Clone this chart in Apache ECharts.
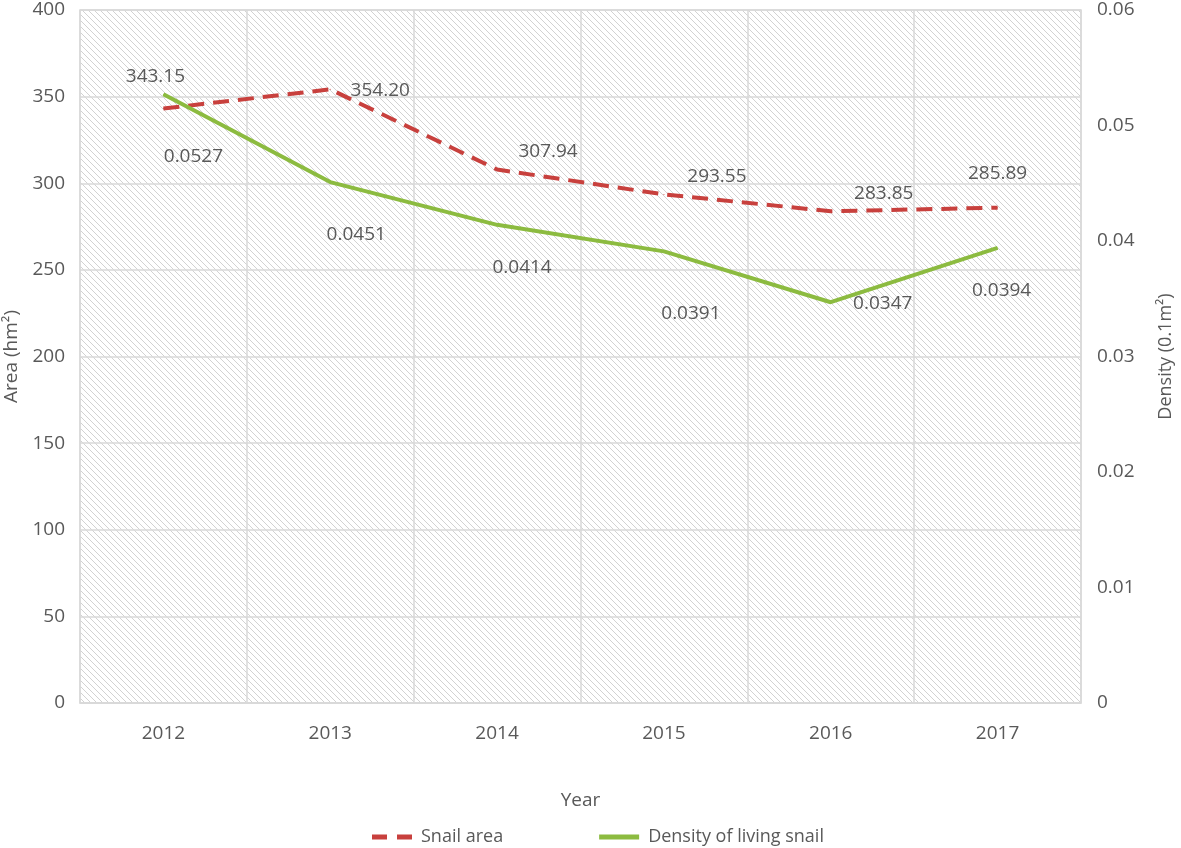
<!DOCTYPE html>
<html><head><meta charset="utf-8">
<script src="https://cdn.jsdelivr.net/npm/echarts@6/dist/echarts.min.js"></script>
<style>html,body{margin:0;padding:0;background:#fff}#c{width:1181px;height:848px}</style>
</head><body><div id="c"></div>
<script>
const years = ['2012','2013','2014','2015','2016','2017'];
const snailArea = [343.15, 354.20, 307.94, 293.55, 283.85, 285.89];
const snailAreaLabels = ['343.15','354.20','307.94','293.55','283.85','285.89'];
const density = [0.0527, 0.0451, 0.0414, 0.0391, 0.0347, 0.0394];
const densityLabels = ['0.0527','0.0451','0.0414','0.0391','0.0347','0.0394'];

// label offsets (style only)
const areaOffsets = [[-8,-32],[50,1],[51,-18],[53,-18],[53,-18],[0,-34]];
const densOffsets = [[30,62],[26,52],[25,43],[27,62],[52,1],[4,43]];

const FONT = '"Open Sans", "Noto Sans", sans-serif';
const TXT = '#595959';

// hatch pattern
const pc = document.createElement('canvas');
pc.width = 6; pc.height = 6;
const pctx = pc.getContext('2d');
pctx.fillStyle = '#ffffff'; pctx.fillRect(0,0,6,6);
pctx.fillStyle = '#d2d2d2';
for (let i = 0; i < 6; i++) pctx.fillRect(i, i, 1, 1);

const chart = echarts.init(document.getElementById('c'), null, {renderer:'canvas'});
const labelBase = {show:true, position:'inside', color:TXT, fontFamily:FONT, fontSize:19};
chart.setOption({
  animation:false,
  textStyle:{fontFamily:FONT, color:TXT},
  grid:{left:80, right:100, top:10, bottom:145, containLabel:false, outerBoundsMode:'none',
        show:true, backgroundColor:{image:pc, repeat:'repeat'}, borderColor:'#d9d9d9', borderWidth:1.5},
  legend:{
    left:367, top:823, itemWidth:40, itemHeight:5, itemGap:96,
    textStyle:{color:TXT, fontFamily:FONT, fontSize:18, padding:[0,0,0,4]},
    data:[
      {name:'Snail area', icon:'path://M0,0h15v5h-15z M25,0h15v5h-15z'},
      {name:'Density of living snail', icon:'rect'}
    ]
  },
  xAxis:{
    type:'category', data:years, boundaryGap:true,
    name:'Year', nameLocation:'middle', nameGap:88,
    nameTextStyle:{color:TXT, fontFamily:FONT, fontSize:19},
    axisLine:{lineStyle:{color:'#d9d9d9', width:1.5}},
    axisTick:{show:false},
    axisLabel:{color:TXT, fontFamily:FONT, fontSize:19, margin:21},
    splitLine:{show:true, lineStyle:{color:'#d9d9d9', width:1.5}}
  },
  yAxis:[
    {type:'value', min:0, max:400, interval:50,
     name:'Area (hm²)', nameLocation:'middle', nameGap:55, nameRotate:90,
     nameTextStyle:{color:TXT, fontFamily:FONT, fontSize:19},
     axisLine:{show:false}, axisTick:{show:false},
     axisLabel:{color:TXT, fontFamily:FONT, fontSize:19, margin:15},
     splitLine:{show:true, lineStyle:{color:'#d9d9d9', width:1.5}}},
    {type:'value', min:0, max:0.06, interval:0.01, position:'right',
     name:'Density (0.1m²)', nameLocation:'middle', nameGap:76, nameRotate:90,
     nameTextStyle:{color:TXT, fontFamily:FONT, fontSize:18},
     axisLine:{show:false}, axisTick:{show:false},
     axisLabel:{color:TXT, fontFamily:FONT, fontSize:19, margin:16,
       formatter:v => v === 0 ? '0' : v.toFixed(2)},
     splitLine:{show:false}}
  ],
  series:[
    {name:'Snail area', type:'line', yAxisIndex:0,
     symbol:'circle', symbolSize:1, showSymbol:true,
     itemStyle:{color:'#c8403d'},
     lineStyle:{color:'#c8403d', width:4, type:[16,9]},
     label:labelBase,
     data:snailArea.map((v,i)=>({value:v, label:{offset:areaOffsets[i], formatter:snailAreaLabels[i]}}))},
    {name:'Density of living snail', type:'line', yAxisIndex:1,
     symbol:'circle', symbolSize:1, showSymbol:true,
     itemStyle:{color:'#8cbb40'},
     lineStyle:{color:'#8cbb40', width:4},
     label:labelBase,
     data:density.map((v,i)=>({value:v, label:{offset:densOffsets[i], formatter:densityLabels[i]}}))}
  ]
});
</script></body></html>
